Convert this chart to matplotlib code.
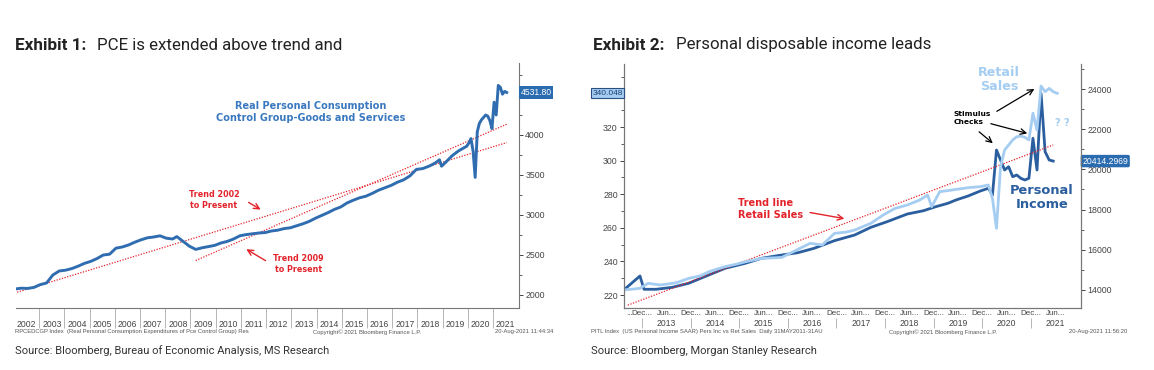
import matplotlib.pyplot as plt
import matplotlib.ticker as mticker

# ---- Exhibit 1: real PCE control group (monthly index level) ----
pce_months = ['2002-01', '2002-04', '2002-07', '2002-10', '2003-01', '2003-04', '2003-07', '2003-10',
              '2004-01', '2004-04', '2004-07', '2004-10', '2005-01', '2005-04', '2005-07', '2005-10',
              '2006-01', '2006-04', '2006-07', '2006-10', '2007-01', '2007-04', '2007-07', '2007-10',
              '2008-01', '2008-04', '2008-06', '2008-09', '2008-12', '2009-03', '2009-06', '2009-09',
              '2009-12', '2010-03', '2010-06', '2010-09', '2010-12', '2011-03', '2011-06', '2011-09',
              '2011-12', '2012-03', '2012-06', '2012-09', '2012-12', '2013-03', '2013-06', '2013-09',
              '2013-12', '2014-03', '2014-06', '2014-09', '2014-12', '2015-03', '2015-06', '2015-09',
              '2015-12', '2016-03', '2016-06', '2016-09', '2016-12', '2017-03', '2017-06', '2017-09',
              '2017-12', '2018-03', '2018-06', '2018-09', '2018-11', '2018-12', '2019-02', '2019-05',
              '2019-08', '2019-10', '2019-12', '2020-01', '2020-02', '2020-03', '2020-04', '2020-05',
              '2020-06', '2020-07', '2020-08', '2020-09', '2020-10', '2020-11', '2020-12', '2021-01',
              '2021-02', '2021-03', '2021-04', '2021-05', '2021-06', '2021-07']
pce_values = [2075, 2085, 2082, 2095, 2130, 2150, 2250, 2300,
              2310, 2330, 2360, 2395, 2420, 2455, 2500, 2510,
              2585, 2600, 2625, 2660, 2690, 2715, 2725, 2740,
              2710, 2700, 2730, 2670, 2610, 2570, 2590, 2605,
              2620, 2650, 2670, 2700, 2740, 2755, 2765, 2775,
              2780, 2800, 2810, 2830, 2840, 2865, 2890, 2920,
              2960, 2995, 3030, 3070, 3100, 3150, 3185, 3215,
              3235, 3270, 3310, 3340, 3370, 3410, 3440, 3490,
              3570, 3580, 3610, 3650, 3690, 3610, 3660, 3740,
              3800, 3830, 3860, 3900, 3955, 3800, 3470, 4040,
              4145, 4190, 4220, 4250, 4235, 4180, 4080, 4410,
              4250, 4620, 4595, 4510, 4545, 4531.8]
trend02_months = ['2002-02', '2021-07']
trend02_values = [2035, 3905]
trend09_months = ['2009-03', '2021-07']
trend09_values = [2431, 4135]
pce_years = list(range(2002, 2022))

# ---- Exhibit 2: retail sales (left axis) vs personal income (right axis) ----
retail_months = ['2012-08', '2012-12', '2013-02', '2013-05', '2013-09', '2013-12', '2014-03', '2014-05',
                 '2014-09', '2014-12', '2015-02', '2015-06', '2015-11', '2016-03', '2016-06', '2016-09',
                 '2016-12', '2017-03', '2017-05', '2017-09', '2017-12', '2018-03', '2018-06', '2018-09',
                 '2018-11', '2018-12', '2019-02', '2019-05', '2019-09', '2019-12', '2020-02', '2020-03',
                 '2020-04', '2020-05', '2020-06', '2020-07', '2020-08', '2020-09', '2020-10', '2020-11',
                 '2020-12', '2021-01', '2021-02', '2021-03', '2021-04', '2021-05', '2021-06', '2021-07']
retail_values = [223.0, 224.0, 227.0, 226.0, 227.3, 229.9, 231.5, 233.9,
                 236.9, 238.5, 239.8, 241.8, 242.4, 247.2, 250.8, 249.8,
                 256.7, 257.5, 258.7, 262.7, 267.6, 271.6, 273.6, 276.5,
                 279.5, 272.6, 281.5, 282.5, 283.9, 284.5, 285.5, 277.6,
                 259.7, 296.4, 306.3, 309.3, 312.3, 314.2, 314.6, 313.9,
                 312.3, 328.2, 318.2, 344.4, 341.0, 343.0, 341.0, 340.048]
income_months = ['2012-08', '2012-12', '2013-01', '2013-04', '2013-08', '2013-12', '2014-05', '2014-09',
                 '2015-02', '2015-06', '2015-11', '2016-03', '2016-07', '2016-12', '2017-05', '2017-09',
                 '2018-01', '2018-06', '2018-10', '2019-01', '2019-04', '2019-06', '2019-09', '2019-12',
                 '2020-02', '2020-03', '2020-04', '2020-05', '2020-06', '2020-07', '2020-08', '2020-09',
                 '2020-10', '2020-11', '2020-12', '2021-01', '2021-02', '2021-03', '2021-04', '2021-05',
                 '2021-06']
income_values = [14000, 14697, 14035, 14035, 14134, 14333, 14746, 15079,
                 15328, 15577, 15741, 15856, 16075, 16453, 16736, 17119,
                 17398, 17781, 17945, 18144, 18313, 18478, 18677, 18925,
                 19060, 18726, 20965, 20468, 19970, 20134, 19637, 19721,
                 19557, 19473, 19557, 21547, 19970, 23786, 20881, 20468,
                 20414.2969]
retail_trend_months = ['2012-09', '2021-06']
retail_trend_values = [214.0, 309.3]
ret_years = list(range(2013, 2022))


def dec(m):
    y, mo = m.split('-')
    return int(y) + (int(mo) - 0.5) / 12


NARROW = 'Liberation Sans'
BOLD = 'DejaVu Sans'
RED = '#e3232b'
BLUE1 = '#2f6db0'
DARK = '#2a5e9e'
LIGHT = '#a5cdf1'
GREY = '#444444'

fig = plt.figure(figsize=(11.54, 3.70), dpi=100)
W, H = 1154, 370

# ================= Exhibit 1 =================
ax1 = fig.add_axes([16 / W, 1 - 308 / H, 503 / W, 245 / H])
ax1.plot([dec(m) for m in trend02_months], trend02_values, color=RED, lw=0.9, ls=(0, (1, 1.2)))
ax1.plot([dec(m) for m in trend09_months], trend09_values, color=RED, lw=0.9, ls=(0, (1, 1.2)))
ax1.plot([dec(m) for m in pce_months], pce_values, color=BLUE1, lw=2.1)
ax1.set_xlim(2002.08, 2022.03)
ax1.set_ylim(1837.5, 4900)

for s in ['left', 'top']:
    ax1.spines[s].set_visible(False)
for s in ['right', 'bottom']:
    ax1.spines[s].set_color('#777777')
    ax1.spines[s].set_linewidth(0.8)

ax1.yaxis.tick_right()
ax1.set_yticks(range(2000, 4001, 500))
ax1.yaxis.set_minor_locator(mticker.MultipleLocator(250))
ax1.tick_params(axis='y', which='major', length=3, width=0.7, colors=GREY, labelsize=6.3, pad=1.5)
ax1.tick_params(axis='y', which='minor', length=2, width=0.6, color=GREY)
for lab in ax1.get_yticklabels():
    lab.set_family(NARROW)

ax1.set_xticks(pce_years[1:])
ax1.set_xticklabels([])
ax1.set_xticks([y + 0.5 for y in pce_years], minor=True)
ax1.set_xticklabels([str(y) for y in pce_years], minor=True)
ax1.tick_params(axis='x', which='major', length=14.5, width=0.6, color='#aaaaaa', direction='out')
ax1.tick_params(axis='x', which='minor', length=0, labelsize=6.2, labelcolor=GREY, pad=8.5)
for lab in ax1.get_xticklabels(minor=True):
    lab.set_family(NARROW)

ax1.text(2013.78, 4287, 'Real Personal Consumption\nControl Group-Goods and Services', color='#3a78bf',
         fontsize=7, fontweight='bold', family=BOLD, ha='center', va='center', linespacing=1.25)
ax1.text(2009.93, 3190, 'Trend 2002\nto Present', color=RED, fontsize=5.8, fontweight='bold',
         family=BOLD, ha='center', va='center', linespacing=1.25)
ax1.annotate('', xy=(2011.88, 3050), xytext=(2011.21, 3175),
             arrowprops=dict(arrowstyle='->', color=RED, lw=1.0))
ax1.text(2013.27, 2390, 'Trend 2009\nto Present', color=RED, fontsize=5.8, fontweight='bold',
         family=BOLD, ha='center', va='center', linespacing=1.25)
ax1.annotate('', xy=(2011.12, 2590), xytext=(2012.07, 2412),
             arrowprops=dict(arrowstyle='->', color=RED, lw=1.0))
ax1.text(1.003, pce_values[-1], '%.2f' % pce_values[-1], transform=ax1.get_yaxis_transform(),
         ha='left', va='center', fontsize=6.2, color='white', family=NARROW,
         bbox=dict(boxstyle='square,pad=0.2', fc='#2b6cb0', ec='none'))

# ================= Exhibit 2 =================
ax2 = fig.add_axes([624 / W, 1 - 308 / H, 457 / W, 244 / H])
ax2r = ax2.twinx()
ax2.plot([dec(m) for m in retail_trend_months], retail_trend_values, color=RED, lw=0.9, ls=(0, (1, 1.2)))
ax2.plot([dec(m) for m in retail_months], retail_values, color=LIGHT, lw=2.0)
ax2r.plot([dec(m) for m in income_months], income_values, color=DARK, lw=2.0)
ax2.set_xlim(2012.63, 2022.03)
ax2.set_ylim(212.3, 357.5)
ax2r.set_ylim(13104, 25244)
ax2.set_zorder(ax2r.get_zorder() + 1)
ax2.patch.set_visible(False)

for a in [ax2, ax2r]:
    a.spines['top'].set_visible(False)
    for s in ['left', 'right', 'bottom']:
        a.spines[s].set_color('#777777')
        a.spines[s].set_linewidth(0.8)

ax2.set_yticks(range(220, 321, 20))
ax2.yaxis.set_minor_locator(mticker.MultipleLocator(10))
ax2.tick_params(axis='y', which='major', length=3, width=0.7, colors=GREY, labelsize=6.3, pad=1.5)
ax2.tick_params(axis='y', which='minor', length=2, width=0.6, color=GREY)
ax2r.set_yticks(range(14000, 24001, 2000))
ax2r.yaxis.set_minor_locator(mticker.MultipleLocator(1000))
ax2r.tick_params(axis='y', which='major', length=3, width=0.7, colors=GREY, labelsize=6.3, pad=1.5)
ax2r.tick_params(axis='y', which='minor', length=2, width=0.6, color=GREY)
for lab in ax2.get_yticklabels() + ax2r.get_yticklabels():
    lab.set_family(NARROW)

month_ticks = []
month_labels = []
for y in ret_years:
    month_ticks += [y, y + 0.5]
    month_labels += ['Dec...', 'Jun...']
ax2.set_xticks(month_ticks)
ax2.set_xticklabels(month_labels)
ax2.tick_params(axis='x', which='major', length=0, labelsize=5.8, labelcolor=GREY, pad=1.5)
for lab in ax2.get_xticklabels():
    lab.set_family(NARROW)
ax2.text(0.004, -0.024, '...', transform=ax2.transAxes, ha='left', va='center', fontsize=5.8,
         color=GREY, family=NARROW)
ax2.vlines(ret_years, -0.04, -0.08, transform=ax2.get_xaxis_transform(), colors='#aaaaaa',
           lw=0.6, clip_on=False)
for y in ret_years:
    ax2.text(y + 0.5, -0.062, str(y), transform=ax2.get_xaxis_transform(), ha='center',
             va='center', fontsize=6.2, color=GREY, family=NARROW)

ax2.text(2020.35, 348.3, 'Retail\nSales', color=LIGHT, fontsize=9.2, fontweight='bold', family=BOLD,
         ha='center', va='center', linespacing=1.1)
ax2.text(2021.23, 278.0, 'Personal\nIncome', color=DARK, fontsize=9.4, fontweight='bold', family=BOLD,
         ha='center', va='center', linespacing=1.1)
ax2.text(2019.40, 325.4, 'Stimulus\nChecks', color='black', fontsize=5.4, fontweight='bold',
         family=BOLD, ha='left', va='center', linespacing=1.3)
ax2.annotate('', xy=(2021.12, 343.5), xytext=(2020.25, 328.5),
             arrowprops=dict(arrowstyle='->', color='black', lw=0.9))
ax2.annotate('', xy=(2020.98, 315.8), xytext=(2020.12, 322.4),
             arrowprops=dict(arrowstyle='->', color='black', lw=0.9))
ax2.annotate('', xy=(2020.26, 309.3), xytext=(2019.89, 318.2),
             arrowprops=dict(arrowstyle='->', color='black', lw=0.9))
ax2.text(2021.64, 322.4, '? ?', color=LIGHT, fontsize=7, fontweight='bold', family=BOLD,
         ha='center', va='center')
ax2.text(2014.98, 271.2, 'Trend line\nRetail Sales', color=RED, fontsize=7, fontweight='bold',
         family=BOLD, ha='left', va='center', linespacing=1.2)
ax2.annotate('', xy=(2017.22, 265.2), xytext=(2016.40, 269.4),
             arrowprops=dict(arrowstyle='->', color=RED, lw=1.0))

ax2.text(-0.003, retail_values[-1], '%.3f' % retail_values[-1], transform=ax2.get_yaxis_transform(),
         ha='right', va='center', fontsize=6.0, color='#1d3f73', family=NARROW,
         bbox=dict(boxstyle='square,pad=0.2', fc=LIGHT, ec='#2a4f80', lw=0.8))
ax2r.text(1.003, income_values[-1], '%.4f' % income_values[-1], transform=ax2r.get_yaxis_transform(),
          ha='left', va='center', fontsize=6.2, color='white', family=NARROW,
          bbox=dict(boxstyle='round,pad=0.2', fc='#2b6cb0', ec='none'))

# ================= titles, footers, sources =================
fig.text(15 / W, 1 - 45 / H, 'Exhibit 1:', family='Roboto', fontweight='bold', fontsize=12.3,
         color='#222222', va='center')
fig.text(97 / W, 1 - 45 / H, 'PCE is extended above trend and', family='Roboto', fontsize=12.2,
         color='#222222', va='center')
fig.text(593 / W, 1 - 45 / H, 'Exhibit 2:', family='Roboto', fontweight='bold', fontsize=12.3,
         color='#222222', va='center')
fig.text(676 / W, 1 - 45 / H, 'Personal disposable income leads', family='Roboto', fontsize=12.2,
         color='#222222', va='center')

foot = dict(fontsize=4.2, color='#555555', family=NARROW, va='center')
fig.text(15 / W, 1 - 332 / H, 'RPCEDCGP Index  (Real Personal Consumption Expenditures of Pce Control Group) Res', **foot)
fig.text(367 / W, 1 - 332 / H, 'Copyright\u00a9 2021 Bloomberg Finance L.P.', ha='center', **foot)
fig.text(553 / W, 1 - 332 / H, '20-Aug-2021 11:44:34', ha='right', **foot)
fig.text(591 / W, 1 - 332 / H, 'PITL Index  (US Personal Income SAAR) Pers Inc vs Ret Sales  Daily 31MAY2011-31AU', **foot)
fig.text(943 / W, 1 - 332 / H, 'Copyright\u00a9 2021 Bloomberg Finance L.P.', ha='center', **foot)
fig.text(1127 / W, 1 - 332 / H, '20-Aug-2021 11:56:20', ha='right', **foot)

fig.text(15 / W, 1 - 351 / H, 'Source: Bloomberg, Bureau of Economic Analysis, MS Research', family='Roboto',
         fontsize=8, color='#333333', va='center')
fig.text(591 / W, 1 - 351 / H, 'Source: Bloomberg, Morgan Stanley Research', family='Roboto',
         fontsize=8, color='#333333', va='center')

fig.savefig('out.png', dpi=100)
